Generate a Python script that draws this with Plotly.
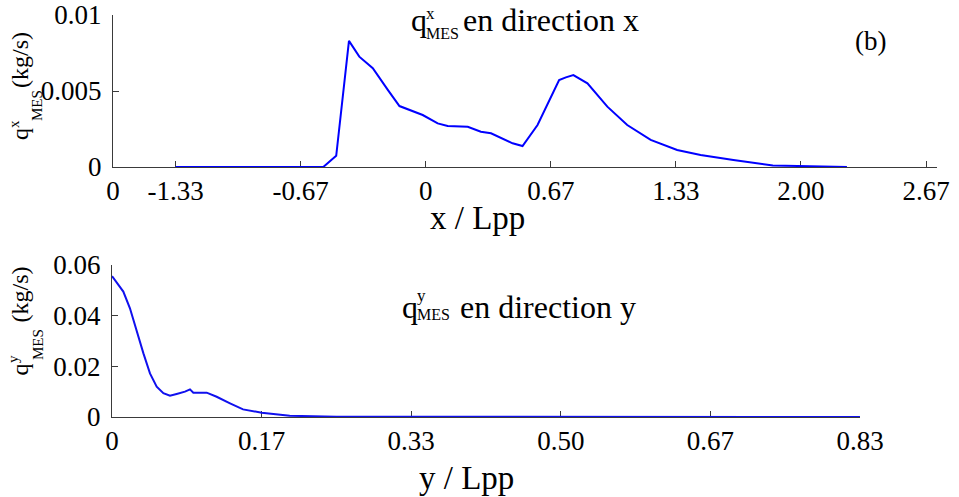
import plotly.graph_objects as go

# ---------------- data ----------------
# top panel: q_MES^x versus x / Lpp
x_pos = [-1.333, -0.546, -0.477, -0.409, -0.354, -0.282, -0.202, -0.140, -0.016,
         0.064, 0.117, 0.224, 0.294, 0.348, 0.463, 0.516, 0.596, 0.711, 0.747,
         0.787, 0.862, 0.968, 1.074, 1.199, 1.34, 1.465, 1.64, 1.78, 1.85, 2.245]
qx_vals = [0, 0, 0.00074, 0.0083, 0.00726, 0.0065, 0.00507, 0.00401, 0.00342,
           0.00287, 0.0027, 0.00265, 0.00232, 0.00222, 0.00156, 0.00138, 0.00276,
           0.00572, 0.0059, 0.00605, 0.0055, 0.00397, 0.00276, 0.00178, 0.00112,
           0.00079, 0.00046, 0.0002, 0.0001, 0]

# bottom panel: q_MES^y versus y / Lpp
y_pos = [0, 0.0126, 0.020, 0.0275, 0.035, 0.0423, 0.0498, 0.0572, 0.0646, 0.072,
         0.0813, 0.0869, 0.0906, 0.1055, 0.1166, 0.1315, 0.146, 0.1668, 0.1835,
         0.198, 0.25, 0.8333]
qy_vals = [0.0556, 0.0495, 0.0429, 0.0337, 0.0251, 0.0172, 0.012, 0.0094, 0.0084,
           0.0091, 0.0100, 0.0109, 0.0096, 0.0096, 0.0080, 0.0054, 0.0030, 0.0017,
           0.0012, 0.0005, 0.0001, 0]

# tick definitions
top_xtick_vals = [-5/3, -4/3, -2/3, 0, 2/3, 4/3, 2, 8/3]
top_xtick_text = ["0", "-1.33", "-0.67", "0", "0.67", "1.33", "2.00", "2.67"]
top_ytick_vals = [0, 0.005, 0.01]
top_ytick_text = ["0", "0.005", "0.01"]
bot_xtick_vals = [0, 1/6, 2/6, 3/6, 4/6, 5/6]
bot_xtick_text = ["0", "0.17", "0.33", "0.50", "0.67", "0.83"]
bot_ytick_vals = [0, 0.02, 0.04, 0.06]
bot_ytick_text = ["0", "0.02", "0.04", "0.06"]

# ---------------- figure ----------------
W, H = 959, 497
FONT = "Liberation Serif, Times New Roman, serif"


def fx(p):
    return p / W


def fy(p):
    return 1 - p / H


fig = go.Figure()
fig.add_trace(go.Scatter(x=x_pos, y=qx_vals, mode="lines", xaxis="x", yaxis="y",
                         line=dict(color="#0000ff", width=2), cliponaxis=False,
                         showlegend=False))
fig.add_trace(go.Scatter(x=y_pos, y=qy_vals, mode="lines", xaxis="x2", yaxis="y2",
                         line=dict(color="#1010ee", width=2), cliponaxis=False,
                         showlegend=False))

axis_common = dict(showgrid=False, zeroline=False, showline=True, linecolor="#3a3a3a",
                   linewidth=1, ticks="inside", ticklen=6, tickcolor="#3a3a3a",
                   tickfont=dict(family=FONT, size=27, color="black"),
                   layer="below traces", automargin=False, tickmode="array")

fig.update_layout(
    width=W, height=H,
    margin=dict(l=0, r=0, t=0, b=0),
    paper_bgcolor="white", plot_bgcolor="white",
    xaxis=dict(domain=[fx(113), fx(937)], range=[-5/3, 2.725], anchor="y",
               tickvals=top_xtick_vals, ticktext=top_xtick_text, **axis_common),
    yaxis=dict(domain=[fy(167), fy(15)], range=[0, 0.01], anchor="x",
               ticklabelstandoff=5,
               tickvals=top_ytick_vals, ticktext=top_ytick_text, **axis_common),
    xaxis2=dict(domain=[fx(112), fx(860)], range=[0, 5/6], anchor="y2",
                tickvals=bot_xtick_vals, ticktext=bot_xtick_text, **axis_common),
    yaxis2=dict(domain=[fy(417), fy(265)], range=[0, 0.06], anchor="x2",
                ticklabelstandoff=5,
                tickvals=bot_ytick_vals, ticktext=bot_ytick_text, **axis_common),
)

annots = []


def txt(text, x, y, size, angle=0):
    annots.append(dict(text=text, x=fx(x), y=fy(y), xref="paper", yref="paper",
                       xanchor="center", yanchor="middle", showarrow=False,
                       textangle=angle, borderpad=0,
                       font=dict(family=FONT, size=size, color="black")))


# top panel title
txt("q", 419, 20, 32)
txt("x", 430, 14, 17)
txt("MES", 442, 33.5, 16)
txt("en direction x", 551, 20, 32)
txt("(b)", 870, 41, 27)
# bottom panel title
txt("q", 410, 307, 32)
txt("y", 421, 295, 17)
txt("MES", 433, 314, 16)
txt("en direction y", 548, 307, 32)
# axis titles
txt("x / Lpp", 477.5, 218, 33)
txt("y / Lpp", 466.5, 477.5, 33)
# y-axis titles (rotated)
txt("(kg/s)", 20, 60, 24, -90)
txt("q", 20, 134, 24, -90)
txt("x", 14, 124, 15, -90)
txt("MES", 37, 106, 15, -90)
txt("(kg/s)", 19.5, 295, 24, -90)
txt("q", 19.5, 370, 24, -90)
txt("y", 13, 359, 15, -90)
txt("MES", 38, 345, 15, -90)

fig.update_layout(annotations=annots)
fig.write_html("out.html", config={"displayModeBar": False},
               post_script="document.body.style.margin='0px';")
